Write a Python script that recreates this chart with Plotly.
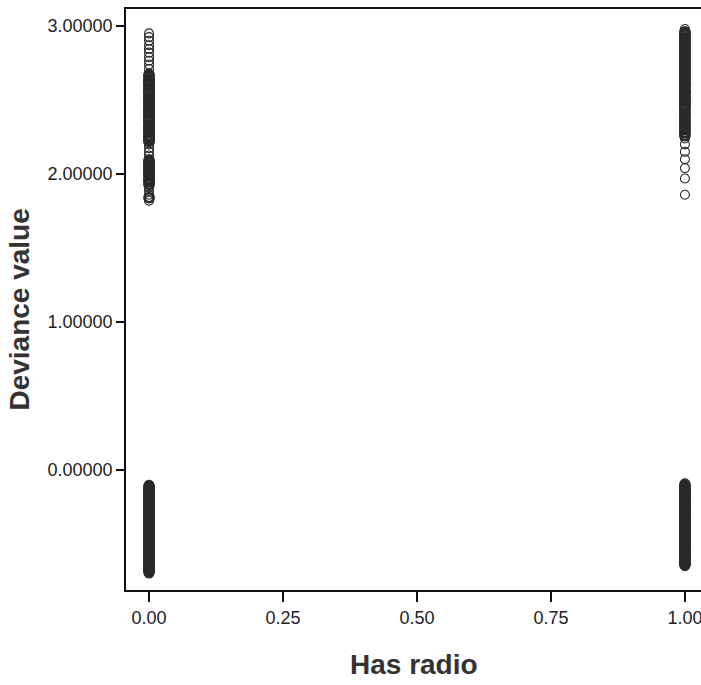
import plotly.graph_objects as go

# Deviance values (Has radio = 0 and = 1)
radio0_high = [2.95, 2.925, 2.90, 2.87, 2.845, 2.82, 2.79, 2.765, 2.74, 2.71, 2.68, 2.67, 2.66,
               2.64, 2.63, 2.62, 2.61, 2.60, 2.58, 2.57, 2.56, 2.55, 2.54, 2.52, 2.51, 2.50, 2.49,
               2.48, 2.46, 2.45, 2.44, 2.43, 2.42, 2.41, 2.39, 2.38, 2.37, 2.36, 2.35, 2.33, 2.32,
               2.31, 2.30, 2.29, 2.28, 2.26, 2.25, 2.24, 2.23, 2.22, 2.20, 2.175, 2.15, 2.125, 2.10,
               2.09, 2.08, 2.06, 2.05, 2.04, 2.03, 2.01, 2.00, 1.99, 1.97, 1.96, 1.95, 1.93, 1.91,
               1.885, 1.86, 1.84, 1.82]
radio0_low = [-0.10, -0.11, -0.12, -0.13, -0.14, -0.15, -0.16, -0.17, -0.18, -0.19, -0.20, -0.21,
              -0.22, -0.23, -0.24, -0.25, -0.26, -0.27, -0.28, -0.29, -0.30, -0.31, -0.32, -0.33,
              -0.34, -0.35, -0.36, -0.37, -0.38, -0.39, -0.40, -0.41, -0.42, -0.43, -0.44, -0.45,
              -0.46, -0.47, -0.48, -0.49, -0.50, -0.51, -0.52, -0.53, -0.54, -0.55, -0.56, -0.57,
              -0.58, -0.59, -0.60, -0.61, -0.62, -0.63, -0.64, -0.65, -0.66, -0.67, -0.68, -0.69,
              -0.70]
radio1_high = [2.98, 2.96, 2.95, 2.94, 2.92, 2.91, 2.90, 2.89, 2.87, 2.86, 2.85, 2.84, 2.82, 2.81,
               2.80, 2.79, 2.77, 2.76, 2.75, 2.74, 2.72, 2.71, 2.70, 2.69, 2.67, 2.66, 2.65, 2.64,
               2.62, 2.61, 2.60, 2.59, 2.57, 2.56, 2.55, 2.54, 2.52, 2.51, 2.50, 2.49, 2.47, 2.46,
               2.45, 2.43, 2.41, 2.40, 2.38, 2.36, 2.35, 2.33, 2.31, 2.30, 2.28, 2.26, 2.24, 2.20,
               2.15, 2.10, 2.04, 1.97, 1.86]
radio1_low = [-0.09, -0.10, -0.11, -0.12, -0.13, -0.14, -0.15, -0.16, -0.17, -0.18, -0.19, -0.20,
              -0.21, -0.22, -0.23, -0.24, -0.25, -0.26, -0.27, -0.28, -0.29, -0.30, -0.31, -0.32,
              -0.33, -0.34, -0.35, -0.36, -0.37, -0.38, -0.39, -0.40, -0.41, -0.42, -0.43, -0.44,
              -0.45, -0.46, -0.47, -0.48, -0.49, -0.50, -0.51, -0.52, -0.53, -0.54, -0.55, -0.56,
              -0.57, -0.58, -0.59, -0.60, -0.61, -0.62, -0.63, -0.64, -0.65]

x_ticks = [0.0, 0.25, 0.5, 0.75, 1.0]
y_ticks = [0.0, 1.0, 2.0, 3.0]

groups = [(0.0, radio0_high), (0.0, radio0_low), (1.0, radio1_high), (1.0, radio1_low)]

xs, ys, widths = [], [], []
for xv, vals in groups:
    s = sorted(vals)
    for i, v in enumerate(s):
        gap_lo = s[i] - s[i - 1] if i > 0 else 1.0
        gap_hi = s[i + 1] - s[i] if i < len(s) - 1 else 1.0
        dense = gap_lo < 0.0205 and gap_hi < 0.0205
        xs.append(xv)
        ys.append(v)
        widths.append(2.8 if dense else 1.1)

fig = go.Figure()
fig.add_trace(go.Scatter(
    x=xs, y=ys, mode="markers",
    marker=dict(symbol="circle-open", size=9, color="#2a2a2a",
                line=dict(width=widths, color="#2a2a2a")),
    showlegend=False, hoverinfo="skip",
))

axis_font = dict(family="Liberation Sans, Arial, sans-serif", size=18, color="#222222")

fig.update_layout(
    width=701, height=685,
    margin=dict(l=126, r=0, t=9, b=95),
    paper_bgcolor="white", plot_bgcolor="white",
    xaxis=dict(
        range=[-0.043, 1.030], tickvals=x_ticks, tickformat=".2f",
        showgrid=False, zeroline=False, showline=True, linecolor="#111111", linewidth=1.8,
        mirror=True, ticks="outside", ticklen=10, tickwidth=2, tickcolor="#111111",
        tickfont=axis_font, ticklabeloverflow="allow",
    ),
    yaxis=dict(
        range=[-0.811, 3.115], tickvals=y_ticks, tickformat=".5f",
        showgrid=False, zeroline=False, showline=True, linecolor="#111111", linewidth=1.8,
        ticks="outside", ticklen=8, tickwidth=2, tickcolor="#111111",
        tickfont=axis_font,
    ),
    annotations=[
        dict(text="<b>Has radio</b>", xref="paper", yref="paper", x=0.5, y=-0.129,
             xanchor="center", yanchor="middle", showarrow=False,
             font=dict(family="Liberation Sans, Arial, sans-serif", size=28, color="#333333")),
        dict(text="<b>Deviance value</b>", xref="paper", yref="paper", x=-0.185, y=0.482,
             xanchor="center", yanchor="middle", showarrow=False, textangle=-90,
             font=dict(family="Liberation Sans, Arial, sans-serif", size=28, color="#333333")),
    ],
)

fig.write_html("out.html")
